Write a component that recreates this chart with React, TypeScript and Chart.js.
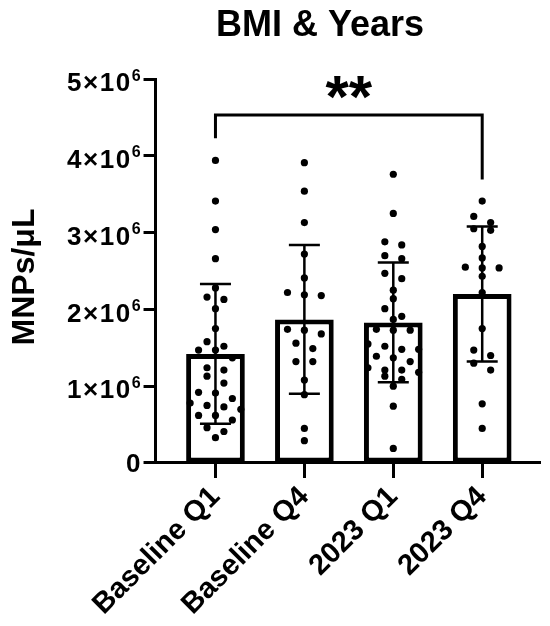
import React, { useEffect, useRef } from 'react';
import { Chart, registerables } from 'chart.js';

Chart.register(...registerables);

const FONT = "'Liberation Sans', Arial, Helvetica, sans-serif";

// ---- data (values in units of 10^6 MNPs/µL) ----
const categories = ['Baseline Q1', 'Baseline Q4', '2023 Q1', '2023 Q4'];

const baselineQ1 = [3.94, 3.41, 3.04, 2.66, 2.28, 2.16, 2.13, 2.01, 1.75, 1.58, 1.52, 1.47, 1.47, 1.37, 1.24, 1.21, 1.13, 1.04, 0.92, 0.91, 0.84, 0.78, 0.75, 0.73, 0.70, 0.62, 0.62, 0.56, 0.46, 0.41, 0.33];
const baselineQ4 = [3.91, 3.54, 3.13, 2.72, 2.41, 2.22, 2.19, 2.18, 1.74, 1.73, 1.68, 1.56, 1.49, 1.32, 1.32, 1.08, 0.89, 0.45, 0.29];
const y2023Q1 = [3.76, 3.25, 2.88, 2.84, 2.70, 2.66, 2.47, 2.40, 2.25, 2.14, 2.01, 1.91, 1.87, 1.74, 1.73, 1.73, 1.55, 1.52, 1.48, 1.48, 1.39, 1.37, 1.32, 1.24, 1.21, 1.21, 1.18, 1.13, 1.09, 1.00, 0.74, 0.19];
const y2023Q4 = [3.41, 3.21, 3.13, 3.05, 3.03, 2.82, 2.67, 2.55, 2.54, 2.54, 2.43, 2.22, 1.75, 1.47, 1.40, 1.30, 1.21, 0.77, 0.45];

const means = [1.42, 1.87, 1.83, 2.20];
const sds = [0.91, 0.97, 0.78, 0.88];

const yTickValues = [0, 1, 2, 3, 4, 5];
const yTickExponent = '6';
const sigPair = [0, 3];
const sigLevels = [4.23, 4.53, 3.69]; // left foot, bar, right foot
const sigLabel = '**';
const chartTitle = 'BMI & Years';
const yTitle = 'MNPs/μL';

const groups = [baselineQ1, baselineQ4, y2023Q1, y2023Q4];

// ---- column-scatter layout (Prism style rows) ----
const SLOT = 0.19;
const ROW_GAP = 0.1;

function swarm(values: number[], center: number) {
  const sorted = [...values].sort((a, b) => b - a);
  const rows: number[][] = [];
  for (const v of sorted) {
    const row = rows[rows.length - 1];
    if (row && row[0] - v < ROW_GAP + 1e-9) row.push(v);
    else rows.push([v]);
  }
  const pts: { x: number; y: number }[] = [];
  rows.forEach((row) =>
    row.forEach((v, i) => pts.push({ x: center + (i - (row.length - 1) / 2) * SLOT, y: v }))
  );
  return pts;
}

const overlay = {
  id: 'overlay',
  afterDatasetDraw(chart: any, args: any) {
    if (args.index !== 0) return;
    const { ctx, scales } = chart;
    const xs = scales.x;
    const ys = scales.y;
    ctx.save();
    ctx.strokeStyle = '#000';
    ctx.lineWidth = 2.5;
    ctx.lineCap = 'butt';
    means.forEach((m, i) => {
      const x = xs.getPixelForValue(i);
      const yt = ys.getPixelForValue(m + sds[i]);
      const yb = ys.getPixelForValue(m - sds[i]);
      ctx.beginPath();
      ctx.moveTo(x, yt);
      ctx.lineTo(x, yb);
      ctx.moveTo(x - 15.5, yt);
      ctx.lineTo(x + 15.5, yt);
      ctx.moveTo(x - 15.5, yb);
      ctx.lineTo(x + 15.5, yb);
      ctx.stroke();
    });
    ctx.restore();
  },
  afterDraw(chart: any) {
    const { ctx, scales, chartArea } = chart;
    const xs = scales.x;
    const ys = scales.y;
    ctx.save();
    ctx.fillStyle = '#000';
    // y tick labels with real superscript
    const right = ys.right - 12 - 3;
    ctx.textAlign = 'right';
    ctx.textBaseline = 'alphabetic';
    yTickValues.forEach((v) => {
      const y = ys.getPixelForValue(v);
      if (v === 0) {
        ctx.font = `bold 26px ${FONT}`;
        ctx.fillText('0', right, y + 9.5);
        return;
      }
      ctx.font = `bold 16px ${FONT}`;
      const supW = ctx.measureText(yTickExponent).width;
      ctx.fillText(yTickExponent, right, y + 1.5);
      ctx.font = `bold 26px ${FONT}`;
      (ctx as any).letterSpacing = '1.5px';
      ctx.fillText(`${v}×10`, right - supW, y + 12.3);
      (ctx as any).letterSpacing = '0px';
    });
    // y axis title
    ctx.save();
    ctx.translate(25, (chartArea.top + chartArea.bottom) / 2 + 6);
    ctx.rotate(-Math.PI / 2);
    ctx.textAlign = 'center';
    ctx.textBaseline = 'middle';
    ctx.font = `bold 32px ${FONT}`;
    ctx.fillText(yTitle, 0, 0);
    ctx.restore();
    // significance bracket
    const x0 = xs.getPixelForValue(sigPair[0]);
    const x1 = xs.getPixelForValue(sigPair[1]);
    const yl = ys.getPixelForValue(sigLevels[0]);
    const yTop = ys.getPixelForValue(sigLevels[1]);
    const yr = ys.getPixelForValue(sigLevels[2]);
    ctx.strokeStyle = '#000';
    ctx.lineWidth = 3;
    ctx.lineJoin = 'miter';
    ctx.beginPath();
    ctx.moveTo(x0, yl);
    ctx.lineTo(x0, yTop);
    ctx.lineTo(x1, yTop);
    ctx.lineTo(x1, yr);
    ctx.stroke();
    ctx.textAlign = 'center';
    ctx.textBaseline = 'alphabetic';
    ctx.font = `bold 60px ${FONT}`;
    ctx.fillText(sigLabel, (x0 + x1) / 2, 117);
    // title
    ctx.font = `bold 36px ${FONT}`;
    ctx.fillText(chartTitle, 320, 36);
    ctx.restore();
  },
};

export default function App() {
  const ref = useRef<HTMLCanvasElement | null>(null);
  useEffect(() => {
    if (!ref.current) return;
    const scatterData = groups.flatMap((g, i) => swarm(g, i));
    const chart = new Chart(ref.current, {
      type: 'bar',
      data: {
        datasets: [
          {
            type: 'bar',
            data: means.map((m, i) => ({ x: i, y: m })),
            backgroundColor: '#fff',
            borderColor: '#000',
            borderWidth: 5,
            borderSkipped: false,
            barPercentage: 0.66,
            categoryPercentage: 1,
            order: 2,
          } as any,
          {
            type: 'scatter',
            data: scatterData,
            backgroundColor: '#000',
            borderWidth: 0,
            pointRadius: 3.6,
            order: 1,
          } as any,
        ],
      },
      options: {
        animation: false,
        responsive: true,
        maintainAspectRatio: false,
        layout: { padding: { left: 5, top: 79, right: 10, bottom: 2 } },
        plugins: { legend: { display: false }, tooltip: { enabled: false }, title: { display: false } },
        scales: {
          x: {
            type: 'linear',
            offset: false,
            min: -0.674,
            max: 3.65,
            afterBuildTicks: (s: any) => {
              s.ticks = categories.map((_, i) => ({ value: i }));
            },
            ticks: {
              callback: (v: any) => categories[v as number] ?? '',
              font: { family: FONT, size: 29, weight: 'bold' },
              color: '#000',
              minRotation: 45,
              maxRotation: 45,
              autoSkip: false,
              padding: 2,
            },
            grid: { display: true, offset: false, drawOnChartArea: false, tickLength: 15, tickWidth: 3, tickColor: '#000' },
            border: { display: true, color: '#000', width: 3 },
          },
          y: {
            type: 'linear',
            min: 0,
            max: 5,
            afterBuildTicks: (s: any) => {
              s.ticks = yTickValues.map((v) => ({ value: v }));
            },
            ticks: {
              callback: (v: any) => (v === 0 ? '0' : `${v}×10⁶`),
              font: { family: FONT, size: 26, weight: 'bold' },
              color: 'rgba(0,0,0,0)',
              padding: 3,
            },
            grid: { display: true, drawOnChartArea: false, tickLength: 12, tickWidth: 3, tickColor: '#000' },
            border: { display: true, color: '#000', width: 3 },
            title: {
              display: true,
              text: yTitle,
              color: 'rgba(0,0,0,0)',
              font: { family: FONT, size: 30, weight: 'bold' },
              padding: { top: 4, bottom: 22 },
            },
          },
        },
      } as any,
      plugins: [overlay],
    });
    return () => chart.destroy();
  }, []);
  return (
    <div style={{ position: 'fixed', left: 0, top: 0, width: 550, height: 626, background: '#fff' }}>
      <canvas ref={ref} style={{ display: 'block' }} />
    </div>
  );
}
